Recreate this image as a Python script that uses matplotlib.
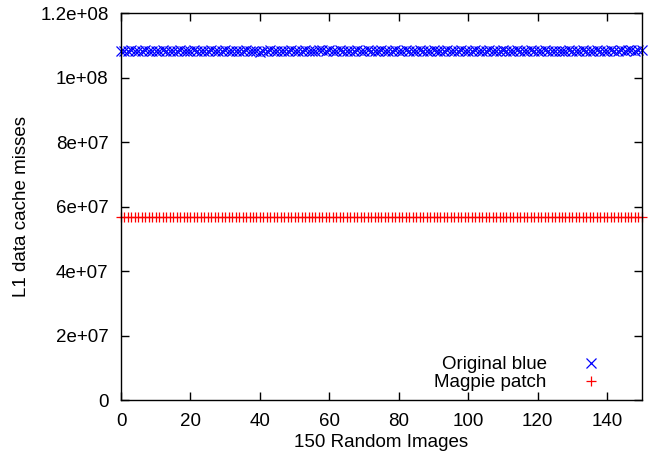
#!/usr/bin/env python3
# plot.py - L1 data cache misses, original vs magpie patch

import matplotlib
matplotlib.use("Agg")
import matplotlib.pyplot as plt
from matplotlib.ticker import FuncFormatter

# image index 0..150
images = list(range(0, 151))

# L1 misses in millions
original_blue = [
    108.1, 108.3, 108.2, 108.4, 108.2, 108.3, 108.1, 108.4, 108.3, 108.2,
    108.3, 108.2, 108.4, 108.1, 108.3, 108.2, 108.3, 108.4, 108.2, 108.3,
    108.2, 108.4, 108.3, 108.1, 108.3, 108.2, 108.4, 108.3, 108.2, 108.3,
    108.4, 108.2, 108.3, 108.2, 108.1, 108.3, 108.4, 108.2, 108.3, 108.2,
    108.0, 108.3, 108.2, 108.4, 108.3, 108.2, 108.3, 108.1, 108.3, 108.4,
    108.2, 108.3, 108.2, 108.4, 108.3, 108.2, 108.3, 108.4, 108.5, 108.3,
    108.4, 108.3, 108.2, 108.4, 108.3, 108.2, 108.3, 108.1, 108.6, 108.3,
    108.2, 108.4, 108.3, 108.2, 108.3, 108.4, 108.2, 108.3, 108.2, 108.4,
    108.3, 108.2, 108.4, 108.3, 108.2, 108.3, 108.4, 108.2, 108.3, 108.2,
    108.4, 108.3, 108.2, 108.3, 108.4, 108.2, 108.3, 108.2, 108.4, 108.3,
    108.2, 108.3, 108.4, 108.2, 108.3, 108.2, 108.4, 108.3, 108.2, 108.3,
    108.4, 108.2, 108.3, 108.2, 108.4, 108.3, 108.2, 108.3, 108.4, 108.2,
    108.3, 108.2, 108.4, 108.3, 108.2, 108.3, 108.1, 108.3, 108.2, 108.4,
    108.3, 108.2, 108.3, 108.4, 108.2, 108.3, 108.2, 108.4, 108.3, 108.2,
    108.3, 108.4, 108.2, 108.3, 108.4, 108.3, 108.5, 108.4, 108.3, 108.4,
    108.5,
]

magpie_patch = [
    56.8, 56.8, 56.8, 56.8, 56.8, 56.8, 56.8, 56.8, 56.8, 56.8,
    56.8, 56.8, 56.8, 56.8, 56.8, 56.8, 56.8, 56.8, 56.8, 56.8,
    56.8, 56.8, 56.8, 56.8, 56.8, 56.8, 56.8, 56.8, 56.8, 56.8,
    56.8, 56.8, 56.8, 56.8, 56.8, 56.8, 56.8, 56.8, 56.8, 56.8,
    56.8, 56.8, 56.8, 56.8, 56.8, 56.8, 56.8, 56.8, 56.8, 56.8,
    56.8, 56.8, 56.8, 56.8, 56.8, 56.8, 56.8, 56.8, 56.8, 56.8,
    56.8, 56.8, 56.8, 56.8, 56.8, 56.8, 56.8, 56.8, 56.8, 56.8,
    56.8, 56.8, 56.8, 56.8, 56.8, 56.8, 56.8, 56.8, 56.8, 56.8,
    56.8, 56.8, 56.8, 56.8, 56.8, 56.8, 56.8, 56.8, 56.8, 56.8,
    56.8, 56.8, 56.8, 56.8, 56.8, 56.8, 56.8, 56.8, 56.8, 56.8,
    56.8, 56.8, 56.8, 56.8, 56.8, 56.8, 56.8, 56.8, 56.8, 56.8,
    56.8, 56.8, 56.8, 56.8, 56.8, 56.8, 56.8, 56.8, 56.8, 56.8,
    56.8, 56.8, 56.8, 56.8, 56.8, 56.8, 56.8, 56.8, 56.8, 56.8,
    56.8, 56.8, 56.8, 56.8, 56.8, 56.8, 56.8, 56.8, 56.8, 56.8,
    56.8, 56.8, 56.8, 56.8, 56.8, 56.8, 56.8, 56.8, 56.8, 56.8,
    56.8,
]

x_ticks = [0, 20, 40, 60, 80, 100, 120, 140]
y_ticks = [0, 2e7, 4e7, 6e7, 8e7, 1e8, 1.2e8]


def gnuplot_fmt(v, pos):
    # gnuplot style "%g": 0, 2e+07, 1e+08 ...
    if v == 0:
        return "0"
    return "%g" % v


def plot():
    plt.rcParams["font.family"] = ["Liberation Sans", "DejaVu Sans"]
    plt.rcParams["font.size"] = 13.5

    fig = plt.figure(figsize=(6.51, 4.61), dpi=100)
    ax = fig.add_axes([0.1859, 0.1323, 0.8001, 0.8395])

    ax.plot(images, [v * 1e6 for v in original_blue], linestyle="none",
            marker="x", color="#0000ff", markersize=6.5, markeredgewidth=0.9,
            label="Original blue", clip_on=False)
    ax.plot(images, [v * 1e6 for v in magpie_patch], linestyle="none",
            marker="+", color="#ff0000", markersize=6.5, markeredgewidth=0.9,
            label="Magpie patch", clip_on=False)

    ax.set_xlim(0, 150)
    ax.set_ylim(0, 1.2e8)
    ax.set_xticks(x_ticks)
    ax.set_yticks(y_ticks)
    ax.yaxis.set_major_formatter(FuncFormatter(gnuplot_fmt))

    ax.tick_params(direction="in", length=5.5, width=1.0, pad=9,
                   top=True, right=True)
    for sp in ax.spines.values():
        sp.set_linewidth(1.0)

    ax.set_xlabel("150 Random Images", labelpad=3)
    ax.set_ylabel("L1 data cache misses", labelpad=7)

    ax.legend(loc="lower right", bbox_to_anchor=(0.947, 0.023),
              frameon=False, markerfirst=False, handlelength=2.5,
              handletextpad=1.1, labelspacing=0.03, borderpad=0,
              borderaxespad=0, markerscale=1.0)

    fig.savefig("out.png", dpi=100)


def main():
    plot()


if __name__ == "__main__":
    main()
